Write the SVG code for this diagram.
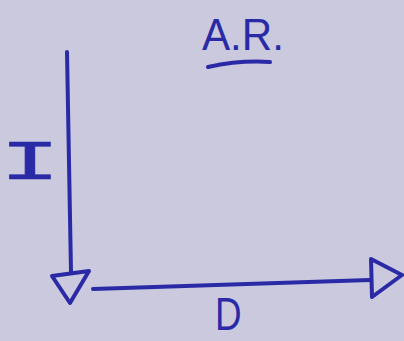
<svg xmlns="http://www.w3.org/2000/svg" width="404" height="341" viewBox="0 0 404 341">
<defs>
<style>
.ink{stroke:#2a2aa6;stroke-width:4;fill:none;stroke-linecap:round;stroke-linejoin:round}
.t{fill:#2a2aa6;font-family:"Liberation Sans",Arial,sans-serif}
</style>
</defs>
<rect width="404" height="341" fill="#cac9dd"/>
<g id="title">
<text class="t" x="202" y="50" font-size="45" textLength="82" lengthAdjust="spacingAndGlyphs">A.R.</text>
<path class="ink" d="M208,67 Q240,60 270,62"/>
</g>
<g id="label-I">
<text x="0" y="0" font-size="56" text-anchor="middle" transform="translate(30 179) scale(1.8 1)" style="fill:#2a2aa6;stroke:#2a2aa6;stroke-width:0.6;font-family:'Liberation Mono',monospace">I</text>
</g>
<g id="label-D">
<text class="t" x="0" y="0" font-size="46" transform="translate(215 330) scale(0.8 1)">D</text>
</g>
<g id="connectors">
<path class="ink" d="M67,52 L71,272"/>
<polygon class="ink" points="52,276 89,271 70,303"/>
<path class="ink" d="M93,289 Q230,285 370,280"/>
<polygon class="ink" points="371,259 402,275 372,297"/>
</g>
</svg>
